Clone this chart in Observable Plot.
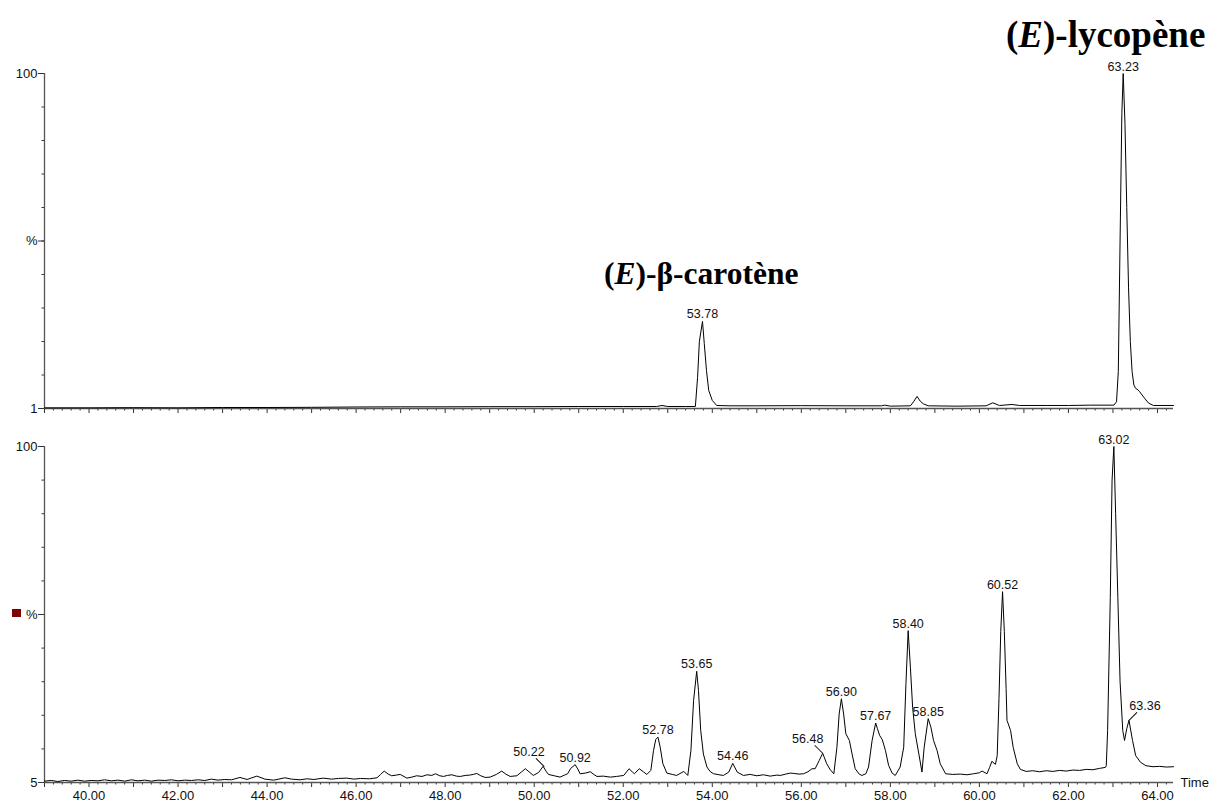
<!DOCTYPE html>
<html><head><meta charset="utf-8">
<script src="https://cdn.jsdelivr.net/npm/d3@7"></script>
<script src="https://cdn.jsdelivr.net/npm/@observablehq/plot@0.6"></script>
<style>
html,body{margin:0;padding:0;background:#fff;overflow:hidden}
#wrap{position:relative;width:1214px;height:800px;overflow:hidden;font-family:"Liberation Sans",Arial,sans-serif}
.panel{position:absolute;left:0}
.title{position:absolute;font-family:"Liberation Serif","Times New Roman",serif;font-weight:bold;line-height:1;white-space:nowrap;color:#000}
.marker{position:absolute;background:#800000}
</style></head>
<body><div id="wrap"></div>
<script>
// ---- Data (time in min, intensity in %) ----
const topTime = [39.00,40.00,41.00,42.00,43.00,44.00,45.00,46.00,47.00,48.00,49.00,50.00,51.00,52.00,52.75,52.87,53.00,53.40,53.62,53.67,53.71,53.78,53.82,53.87,53.92,54.00,54.10,54.40,55.00,56.00,57.00,57.80,57.87,58.00,58.45,58.52,58.60,58.67,58.74,58.85,59.50,60.15,60.30,60.45,60.73,60.90,61.50,62.00,62.50,63.02,63.08,63.12,63.16,63.20,63.23,63.27,63.31,63.35,63.39,63.43,63.47,63.51,63.56,63.60,63.69,63.80,63.91,64.10,64.36];
const topIntensity = [0.2,0.2,0.25,0.2,0.3,0.3,0.35,0.45,0.5,0.5,0.55,0.55,0.6,0.6,0.6,0.9,0.6,0.6,0.6,9.3,20,26,19.4,11.3,5.4,2.4,0.9,0.8,0.8,0.85,0.8,0.8,1.0,0.7,0.8,2.0,3.6,2.2,1.4,0.8,0.7,0.8,1.7,0.9,1.2,0.9,0.9,0.9,1.0,1.0,2,11,50,88,100,85,60,36,20,11,7,6,5.6,5.0,3.4,1.6,0.9,0.9,0.9];

const bottomTime = [39.00,39.15,39.30,39.45,39.60,39.75,39.90,40.05,40.20,40.35,40.50,40.65,40.80,40.95,41.10,41.25,41.40,41.55,41.70,41.85,42.00,42.15,42.30,42.45,42.60,42.75,42.90,43.05,43.20,43.39,43.55,43.77,43.95,44.15,44.40,44.55,44.74,44.90,45.05,45.26,45.45,45.60,45.79,45.95,46.10,46.30,46.47,46.55,46.63,46.72,46.80,46.90,46.99,47.14,47.25,47.36,47.48,47.59,47.70,47.78,47.88,47.96,48.05,48.15,48.25,48.34,48.45,48.55,48.63,48.71,48.80,48.90,49.01,49.15,49.27,49.36,49.46,49.61,49.72,49.80,49.90,49.98,50.10,50.20,50.27,50.32,50.45,50.58,50.68,50.75,50.82,50.92,50.98,51.03,51.15,51.26,51.35,51.41,51.55,51.71,51.85,52.01,52.13,52.20,52.25,52.36,52.45,52.53,52.62,52.68,52.73,52.78,52.83,52.89,52.98,53.10,53.20,53.36,53.45,53.52,53.58,53.65,53.69,53.74,53.80,53.88,53.95,54.03,54.15,54.25,54.37,54.46,54.56,54.70,54.85,55.00,55.15,55.30,55.45,55.53,55.65,55.75,55.83,55.95,56.05,56.15,56.24,56.31,56.40,56.48,56.57,56.65,56.73,56.80,56.85,56.90,56.95,57.00,57.08,57.14,57.21,57.30,57.36,57.45,57.51,57.59,57.67,57.71,57.76,57.82,57.89,57.96,58.04,58.11,58.22,58.30,58.35,58.40,58.45,58.50,58.56,58.64,58.71,58.76,58.85,58.91,58.97,59.05,59.12,59.24,59.40,59.57,59.72,59.87,60.00,60.06,60.17,60.23,60.28,60.36,60.40,60.44,60.48,60.52,60.56,60.60,60.62,60.70,60.76,60.85,60.92,61.05,61.20,61.35,61.50,61.65,61.80,61.95,62.10,62.25,62.40,62.55,62.70,62.83,62.85,62.88,62.94,62.98,63.02,63.06,63.11,63.16,63.22,63.26,63.31,63.36,63.44,63.51,63.62,63.74,63.90,64.05,64.20,64.36];
const bottomIntensity = [0.4,0.6,0.3,0.6,0.4,0.7,0.4,0.6,0.5,0.8,0.5,0.7,0.4,0.8,0.5,0.7,0.4,0.7,0.6,0.8,0.5,0.7,0.6,0.8,0.6,1.0,0.7,0.9,0.8,1.5,0.9,1.9,1.0,0.7,1.4,1.0,0.8,1.1,0.9,1.3,1.0,1.2,1.3,1.0,1.2,1.1,1.4,2.4,3.4,2.5,2.0,2.2,2.4,1.3,1.6,2.0,1.8,2.3,2.1,2.6,2.0,1.8,2.1,2.3,1.9,1.8,2.1,2.2,2.4,2.7,2.0,1.5,1.6,2.4,3.4,2.5,1.8,2.0,3.2,4.1,3.0,2.1,3.0,4.8,3.3,2.4,2.0,1.6,2.2,2.6,4.2,5.3,4.0,2.6,2.8,3.2,2.3,1.8,1.9,1.6,1.8,2.1,4.1,3.2,2.6,4.1,3.2,2.4,3.6,9.5,12.8,13.5,10.5,5.6,2.8,2.4,2.1,3.3,2.1,9.5,24.4,33.1,27.4,15.5,8.5,4.6,3.3,2.6,2.3,2.1,3.1,5.7,3.1,2.1,2.4,2.0,2.3,1.9,2.2,2.1,2.5,2.8,2.7,2.5,2.6,3.2,4.1,4.1,6.5,8.7,5.6,3.8,2.6,10.5,20.4,24.9,20.4,14.5,12.5,8.5,4.1,2.5,2.1,2.6,4.6,12.5,17.7,16.0,14.0,12.7,9.5,5.1,2.8,2.1,4.6,10.5,29.4,45.2,34.3,22.4,14.5,8.5,3.1,10.5,19.0,16.5,12.5,9.5,5.6,2.6,2.4,2.5,2.3,2.6,2.9,3.4,2.6,4.5,6.3,5.4,8.0,25,45,56.8,45,28,18.5,15.5,10.4,5.6,3.9,3.3,3.5,3.2,3.5,3.3,3.6,3.4,3.7,3.6,3.9,3.8,4.2,4.5,5.0,15.5,55,90,100,80,55,30,15.5,12.5,16,18.5,12.5,8,6,5,4.7,4.8,4.6,4.7];

const topPeakTimes = [53.78, 63.23];
const topPeakHeights = [26, 100];
const bottomPeakTimes = [50.22, 50.92, 52.78, 53.65, 54.46, 56.48, 56.90, 57.67, 58.40, 58.85, 60.52, 63.02, 63.36];
const bottomPeakHeights = [4.8, 5.3, 13.5, 33.1, 5.7, 8.7, 24.9, 17.7, 45.2, 19.0, 56.8, 100, 18.5];
const leftLeaderPeaks = [50.22, 56.48];
const rightLeaderPeaks = [63.36];

const topYLabels = ["1", "%", "100"];
const bottomYLabels = ["5", "%", "100"];
const xLabelTicks = [40, 42, 44, 46, 48, 50, 52, 54, 56, 58, 60, 62, 64];
const xAxisName = "Time";
const topTitleItalic = "E", topTitleRest = ")-lycopène";
const midTitleItalic = "E", midTitleRest = ")-β-carotène";

// ---- Drawing ----
const X_DOMAIN = [39.0, 64.36];
const majorX = d3.range(39, 65);
const minorX = d3.range(195, 322).map(i => i / 5).filter(d => !Number.isInteger(d));
const leader = {draw(context, l) { context.moveTo(0, 0); context.lineTo(0, -l); }};
const fmt2 = d => d.toFixed(2);

function panel({time, intensity, peakTimes, peakHeights, yLabels, height, marginTop, marginBottom, xLabels}) {
  const trace = time.map((t, i) => ({t, v: intensity[i]}));
  const peaks = peakTimes.map((t, i) => ({t, v: peakHeights[i]}));
  const plain = peaks.filter(p => !leftLeaderPeaks.includes(p.t) && !rightLeaderPeaks.includes(p.t));
  const leftL = peaks.filter(p => leftLeaderPeaks.includes(p.t));
  const rightL = peaks.filter(p => rightLeaderPeaks.includes(p.t));
  const marks = [
    Plot.axisY({ticks: d3.range(0, 101, 10), tickSize: 2.5, tickFormat: () => "", stroke: "#333", label: null}),
    Plot.axisY({ticks: [0, 50, 100], tickSize: 6, tickPadding: 1, stroke: "#333", fill: "#111", label: null,
      tickFormat: d => d === 0 ? yLabels[0] : d === 50 ? yLabels[1] : yLabels[2]}),
    Plot.axisX({ticks: minorX, tickSize: 2.5, tickFormat: () => "", stroke: "#333", label: null}),
    Plot.axisX({ticks: majorX, tickSize: 5, tickFormat: () => "", stroke: "#333", label: null}),
    Plot.ruleX([X_DOMAIN[0]], {stroke: "#555", strokeWidth: 1.3}),
    Plot.ruleY([0], {stroke: "#555", strokeWidth: 1.3}),
    Plot.line(trace, {x: "t", y: "v", stroke: "#000", strokeWidth: 1}),
    Plot.text(plain, {x: "t", y: "v", text: d => fmt2(d.t), dy: -7, lineAnchor: "middle", fontSize: 12.5, fill: "#111"}),
    Plot.text(leftL, {x: "t", y: "v", text: d => fmt2(d.t), dx: -15, dy: -14, lineAnchor: "middle", fontSize: 12.5, fill: "#111"}),
    Plot.text(rightL, {x: "t", y: "v", text: d => fmt2(d.t), dx: 16, dy: -14, lineAnchor: "middle", fontSize: 12.5, fill: "#111"}),
    Plot.vector(leftL, {x: "t", y: "v", rotate: -45, length: 11, anchor: "start", shape: leader, stroke: "#111", strokeWidth: 1}),
    Plot.vector(rightL, {x: "t", y: "v", rotate: 45, length: 11, anchor: "start", shape: leader, stroke: "#111", strokeWidth: 1})
  ];
  if (xLabels) {
    marks.push(Plot.axisX({ticks: xLabelTicks, tickSize: 0, tickPadding: 8, tickFormat: fmt2, fill: "#111", label: null}));
    marks.push(Plot.text([xAxisName], {frameAnchor: "bottom-right", text: d => d, dx: 7, textAnchor: "start", lineAnchor: "middle", fontSize: 13, fill: "#111"}));
  }
  return Plot.plot({
    width: 1214, height, marginLeft: 44, marginRight: 41, marginTop, marginBottom,
    x: {domain: X_DOMAIN, label: null},
    y: {domain: [0, 100], label: null},
    style: {fontFamily: '"Liberation Sans", Arial, sans-serif', fontSize: "13px", color: "#111", background: "transparent", overflow: "visible"},
    marks
  });
}

const wrap = document.getElementById("wrap");
const topPlot = panel({time: topTime, intensity: topIntensity, peakTimes: topPeakTimes, peakHeights: topPeakHeights,
  yLabels: topYLabels, height: 420, marginTop: 73, marginBottom: 12, xLabels: false});
topPlot.classList.add("panel"); topPlot.style.top = "0px";
wrap.appendChild(topPlot);

const bottomPlot = panel({time: bottomTime, intensity: bottomIntensity, peakTimes: bottomPeakTimes, peakHeights: bottomPeakHeights,
  yLabels: bottomYLabels, height: 400, marginTop: 26, marginBottom: 38, xLabels: true});
bottomPlot.classList.add("panel"); bottomPlot.style.top = "420px";
wrap.appendChild(bottomPlot);

const mk = document.createElement("div");
mk.className = "marker";
Object.assign(mk.style, {left: "12px", top: "609px", width: "9px", height: "8px"});
wrap.appendChild(mk);

function title(italic, rest, left, top, size) {
  const d = document.createElement("div");
  d.className = "title";
  d.style.left = left + "px"; d.style.top = top + "px"; d.style.fontSize = size + "px";
  d.append("(");
  const i = document.createElement("i"); i.textContent = italic; d.appendChild(i);
  d.append(rest);
  wrap.appendChild(d);
}
title(topTitleItalic, topTitleRest, 1006, 16, 37);
title(midTitleItalic, midTitleRest, 604, 258, 31.5);
</script>
</body></html>
